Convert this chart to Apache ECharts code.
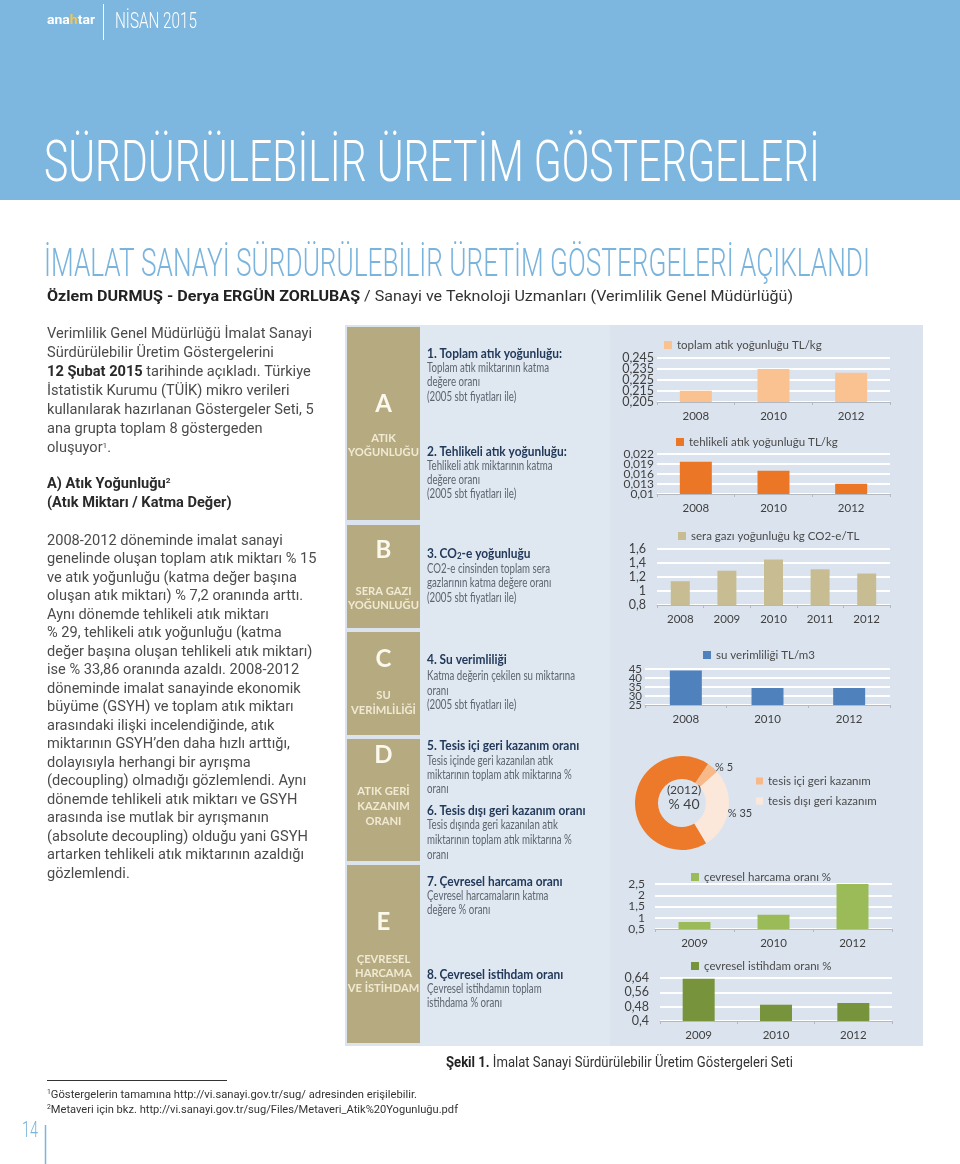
<!DOCTYPE html>
<html><head><meta charset="utf-8">
<script src="https://cdn.jsdelivr.net/npm/echarts@6/dist/echarts.min.js"></script>
<style>html,body{margin:0;padding:0;background:#fff}#c{width:960px;height:1164px}</style>
</head><body><div id="c"></div>
<script>
// ---------------- DATA ----------------
const wasteYears = ['2008', '2010', '2012'];
const totalWasteName = 'toplam atık yoğunluğu TL/kg';
const totalWaste = [0.2153, 0.2350, 0.2316];
const totalWasteTicks = [0.205, 0.215, 0.225, 0.235, 0.245];

const hazWasteName = 'tehlikeli atık yoğunluğu TL/kg';
const hazWaste = [0.0197, 0.0170, 0.0131];
const hazWasteTicks = [0.01, 0.013, 0.016, 0.019, 0.022];

const ghgYears = ['2008', '2009', '2010', '2011', '2012'];
const ghgName = 'sera gazı yoğunluğu kg CO2-e/TL';
const ghg = [1.14, 1.29, 1.45, 1.31, 1.25];
const ghgTicks = [0.8, 1, 1.2, 1.4, 1.6];

const waterYears = ['2008', '2010', '2012'];
const waterName = 'su verimliliği TL/m3';
const water = [44.1, 34.4, 34.4];
const waterTicks = [25, 30, 35, 40, 45];

const recoveryNames = ['geri kazanım (2012)', 'tesis içi geri kazanım', 'tesis dışı geri kazanım'];
const recoveryLabels = ['% 40', '% 5', '% 35'];
const recoveryArcShares = [68, 4, 28]; // share of the ring as drawn

const envYears = ['2009', '2010', '2012'];
const envSpendName = 'çevresel harcama oranı %';
const envSpend = [0.81, 1.13, 2.58];
const envSpendTicks = [0.5, 1, 1.5, 2, 2.5];

const envEmpName = 'çevresel istihdam oranı %';
const envEmp = [0.636, 0.491, 0.500];
const envEmpTicks = [0.4, 0.48, 0.56, 0.64];

// ---------------- HELPERS ----------------
const ctx = document.createElement('canvas').getContext('2d');
function measure(segs) { let w = 0; segs.forEach(s => { ctx.font = s[1]; w += ctx.measureText(s[0]).width; }); return w; }
const G = [];
function addText(x, y, segs, opt) {
  opt = opt || {};
  const rich = {}; let str = '';
  segs.forEach((s, i) => {
    rich['s' + i] = { font: s[1], fill: s[2], verticalAlign: s[3] || 'middle' };
    str += '{s' + i + '|' + s[0] + '}';
  });
  let sx = opt.scale || 1;
  if (opt.fit) sx = opt.fit / measure(segs);
  G.push({ type: 'text', x: x, y: y, scaleX: sx, z: 50, silent: true,
    style: { text: str, rich: rich, font: segs[0][1], fill: segs[0][2],
      align: opt.align || 'left', verticalAlign: 'middle',
      textAlign: opt.align || 'left', textVerticalAlign: 'middle' } });
  return sx;
}
function rect(x, y, w, h, fill, z) { G.push({ type: 'rect', z: z == null ? -5 : z, silent: true, shape: { x, y, width: w, height: h }, style: { fill } }); }
function line(x1, y1, x2, y2, stroke, w) { G.push({ type: 'line', z: 40, silent: true, shape: { x1, y1, x2, y2 }, style: { stroke, lineWidth: w || 1 } }); }

// ---------------- PAGE DECOR ----------------
rect(0, 0, 960, 200, '#7db6de', -10);
addText(47, 21, [['ana', 'bold 12px Roboto', '#ffffff'], ['h', 'bold 12px Roboto', '#f4c64f'], ['tar', 'bold 12px Roboto', '#ffffff']], { fit: 48 });
line(103.5, 4, 103.5, 40, '#ffffff', 1);
addText(115, 22, [['NİSAN 2015', '300 22px Roboto', '#ffffff']], { fit: 82 });
addText(44, 166, [['SÜRDÜRÜLEBİLİR ÜRETİM GÖSTERGELERİ', '300 58px Roboto', '#ffffff']], { fit: 776 });
addText(44, 266, [['İMALAT SANAYİ SÜRDÜRÜLEBİLİR ÜRETİM GÖSTERGELERİ AÇIKLANDI', '300 39px Roboto', '#7ab4dd']], { fit: 826 });
addText(47, 297, [['Özlem DURMUŞ - Derya ERGÜN ZORLUBAŞ', 'bold 15.5px Roboto', '#222222'], [' / Sanayi ve Teknoloji Uzmanları (Verimlilik Genel Müdürlüğü)', '15.5px Roboto', '#333333']], { fit: 746 });

// left column text
const BF = '14px Roboto', BB = 'bold 14px Roboto', BC = '#4b4b4b', BD = '#2a2a2a';
const bodyScale = 265 / measure([['Verimlilik Genel Müdürlüğü İmalat Sanayi', BF]]);
const intro = [
  [['Verimlilik Genel Müdürlüğü İmalat Sanayi', BF, BC]],
  [['Sürdürülebilir Üretim Göstergelerini', BF, BC]],
  [['12 Şubat 2015', BB, BD], [' tarihinde açıkladı. Türkiye', BF, BC]],
  [['İstatistik Kurumu (TÜİK) mikro verileri', BF, BC]],
  [['kullanılarak hazırlanan Göstergeler Seti, 5', BF, BC]],
  [['ana grupta toplam 8 göstergeden', BF, BC]],
  [['oluşuyor', BF, BC], ['1', '8px Roboto', BC, 'top'], ['.', BF, BC]]
];
intro.forEach((l, i) => addText(47, 334 + i * 19.1, l, { scale: bodyScale }));
addText(47, 484, [['A) Atık Yoğunluğu', BB, BD], ['2', 'bold 8px Roboto', BD, 'top']], { scale: bodyScale });
addText(47, 503, [['(Atık Miktarı / Katma Değer)', BB, BD]], { scale: bodyScale });
const para = [
  '2008-2012 döneminde imalat sanayi',
  'genelinde oluşan toplam atık miktarı % 15',
  've atık yoğunluğu (katma değer başına',
  'oluşan atık miktarı) % 7,2 oranında arttı.',
  'Aynı dönemde tehlikeli atık miktarı',
  '% 29, tehlikeli atık yoğunluğu (katma',
  'değer başına oluşan tehlikeli atık miktarı)',
  'ise % 33,86 oranında azaldı. 2008-2012',
  'döneminde imalat sanayinde ekonomik',
  'büyüme (GSYH) ve toplam atık miktarı',
  'arasındaki ilişki incelendiğinde, atık',
  'miktarının GSYH’den daha hızlı arttığı,',
  'dolayısıyla herhangi bir ayrışma',
  '(decoupling) olmadığı gözlemlendi. Aynı',
  'dönemde tehlikeli atık miktarı ve GSYH',
  'arasında ise mutlak bir ayrışmanın',
  '(absolute decoupling) olduğu yani GSYH',
  'artarken tehlikeli atık miktarının azaldığı',
  'gözlemlendi.'
];
para.forEach((t, i) => addText(47, 541 + i * 18.5, [[t, BF, BC]], { scale: bodyScale }));

// infographic panel
rect(345, 325, 578, 721, '#dbe4ee', -9);
rect(420, 325, 190, 721, '#dfe7f0', -8);
const TAN = '#b6aa80';
[[327, 520], [525, 628], [632, 735], [739, 861], [865, 1043]].forEach(b => rect(347, b[0], 73, b[1] - b[0], TAN, -7));
const LF = 'bold 24px Lato', SF = 'bold 11px Lato', LC = '#fbf8ee', SC = '#f1ead3';
const boxScale = 71 / measure([['YOĞUNLUĞU', SF]]);
const boxTexts = [
  ['A', 404, [['ATIK', 438], ['YOĞUNLUĞU', 452]]],
  ['B', 550, [['SERA GAZI', 591], ['YOĞUNLUĞU', 605]]],
  ['C', 659, [['SU', 695], ['VERİMLİLİĞİ', 710]]],
  ['D', 755, [['ATIK GERİ', 791], ['KAZANIM', 806], ['ORANI', 821]]],
  ['E', 922, [['ÇEVRESEL', 959], ['HARCAMA', 973], ['VE İSTİHDAM', 988]]]
];
boxTexts.forEach(b => {
  addText(383.5, b[1], [[b[0], LF, LC]], { align: 'center' });
  b[2].forEach(s => addText(383.5, s[1], [[s[0], SF, SC]], { align: 'center', scale: boxScale }));
});

const HF = 'bold 13.5px Lato', TF = '13.5px Lato', HC = '#22395a', TC = '#5c6570';
const hScale = 135 / measure([['1. Toplam atık yoğunluğu:', HF]]);
const tScale = 122 / measure([['Toplam atık miktarının katma', TF]]);
const desc = [
  ['h', '1. Toplam atık yoğunluğu:', 354], ['t', 'Toplam atık miktarının katma', 368], ['t', 'değere oranı', 382], ['t', '(2005 sbt fiyatları ile)', 397],
  ['h', '2. Tehlikeli atık yoğunluğu:', 452], ['t', 'Tehlikeli atık miktarının katma', 466], ['t', 'değere oranı', 480], ['t', '(2005 sbt fiyatları ile)', 494],
  ['t', 'CO2-e cinsinden toplam sera', 569], ['t', 'gazlarının katma değere oranı', 583], ['t', '(2005 sbt fiyatları ile)', 598],
  ['h', '4. Su verimliliği', 660], ['t', 'Katma değerin çekilen su miktarına', 676], ['t', 'oranı', 691], ['t', '(2005 sbt fiyatları ile)', 705],
  ['h', '5. Tesis içi geri kazanım oranı', 746], ['t', 'Tesis içinde geri kazanılan atık', 761], ['t', 'miktarının toplam atık miktarına %', 775], ['t', 'oranı', 789],
  ['h', '6. Tesis dışı geri kazanım oranı', 811], ['t', 'Tesis dışında geri kazanılan atık', 825], ['t', 'miktarının toplam atık miktarına %', 840], ['t', 'oranı', 855],
  ['h', '7. Çevresel harcama oranı', 882], ['t', 'Çevresel harcamaların katma', 896], ['t', 'değere % oranı', 910],
  ['h', '8. Çevresel istihdam oranı', 975], ['t', 'Çevresel istihdamın toplam', 989], ['t', 'istihdama % oranı', 1003]
];
desc.forEach(d => addText(427, d[2], [[d[1], d[0] === 'h' ? HF : TF, d[0] === 'h' ? HC : TC]], { scale: d[0] === 'h' ? hScale : tScale }));
addText(427, 554, [['3. CO', HF, HC], ['2', 'bold 9px Lato', HC, 'bottom'], ['-e yoğunluğu', HF, HC]], { scale: hScale });

// donut labels
addText(684, 790, [['(2012)', '12px Lato', '#404040']], { align: 'center' });
addText(684, 804, [['% 40', '14px Lato', '#404040']], { align: 'center' });
addText(724, 767, [['% 5', '11px Lato', '#404040']], { align: 'center' });
addText(740, 813, [['% 35', '11px Lato', '#404040']], { align: 'center' });

// caption & footnotes
addText(446, 1063, [['Şekil 1.', 'bold 14px Roboto', '#222222'], [' İmalat Sanayi Sürdürülebilir Üretim Göstergeleri Seti', '14px Roboto', '#333333']], { fit: 347 });
line(47, 1080.5, 227, 1080.5, '#333333', 1);
addText(47, 1095, [['1', '7px Roboto', '#333', 'top'], ['Göstergelerin tamamına http://vi.sanayi.gov.tr/sug/ adresinden erişilebilir.', '11.5px Roboto', '#333333']], { fit: 370 });
addText(47, 1110, [['2', '7px Roboto', '#333', 'top'], ['Metaveri için bkz. http://vi.sanayi.gov.tr/sug/Files/Metaveri_Atik%20Yogunluğu.pdf', '11.5px Roboto', '#333333']], { fit: 411 });
addText(22, 1131, [['14', '300 22px Roboto', '#7ab4dd']], { fit: 16 });
line(45.5, 1125, 45.5, 1164, '#7ab4dd', 1.5);

// ---------------- CHARTS ----------------
const grids = [], xAxes = [], yAxes = [], series = [], legends = [];
function fmt(v) { return String(Math.round(v * 10000) / 10000).replace('.', ','); }
function barChart(c) {
  const i = grids.length;
  grids.push({ left: c.left, top: c.top, width: c.width, height: c.height, containLabel: false });
  xAxes.push({ gridIndex: i, type: 'category', data: c.cats,
    axisLine: { lineStyle: { color: '#b4b9bf', width: 1 } },
    axisTick: { show: true, length: 3, lineStyle: { color: '#b4b9bf' } },
    axisLabel: { color: '#3f3f3f', fontSize: 11.5, fontFamily: 'Lato', margin: 8 } });
  const vIdx = yAxes.length;
  // value axis: scale for bars + white grid lines at the tick values
  yAxes.push({ gridIndex: i, type: 'value', min: c.ticks[0], max: c.ticks[c.ticks.length - 1],
    axisLine: { show: false },
    axisTick: { show: false, customValues: c.ticks },
    axisLabel: { show: false, customValues: c.ticks },
    splitLine: { show: true, lineStyle: { color: '#ffffff', width: 2 } } });
  // label axis: the printed tick labels, evenly spaced from min to max
  yAxes.push({ gridIndex: i, type: 'category', data: c.ticks.map(fmt), boundaryGap: false, position: 'left',
    axisLine: { show: false }, axisTick: { show: false }, splitLine: { show: false },
    axisLabel: { interval: 0, color: '#3f3f3f', fontSize: c.fs, fontFamily: 'Lato', margin: c.margin } });
  series.push({ type: 'bar', name: c.name, xAxisIndex: i, yAxisIndex: vIdx, data: c.data, barWidth: c.barWidth,
    itemStyle: { color: c.color }, emphasis: { disabled: true }, silent: true });
  legends.push({ data: [c.name], left: c.legLeft, top: c.legTop, padding: 0, icon: 'rect', itemWidth: 8, itemHeight: 8,
    selectedMode: false, textStyle: { color: '#4a4a4a', fontSize: 11.5, fontFamily: 'Lato' } });
}
barChart({ left: 657, top: 358, width: 233, height: 44, cats: wasteYears, data: totalWaste, ticks: totalWasteTicks, name: totalWasteName, color: '#fac191', barWidth: 32, margin: 3, fs: 12.5, legLeft: 664, legTop: 339 });
barChart({ left: 657, top: 454, width: 233, height: 40, cats: wasteYears, data: hazWaste, ticks: hazWasteTicks, name: hazWasteName, color: '#eb7625', barWidth: 32, margin: 3, fs: 12, legLeft: 676, legTop: 436 });
barChart({ left: 657, top: 549, width: 233, height: 56, cats: ghgYears, data: ghg, ticks: ghgTicks, name: ghgName, color: '#c8bd92', barWidth: 19, margin: 11, fs: 12.5, legLeft: 678, legTop: 530 });
barChart({ left: 645, top: 669, width: 245, height: 36, cats: waterYears, data: water, ticks: waterTicks, name: waterName, color: '#4f81bd', barWidth: 32, margin: 3, fs: 11.5, legLeft: 703, legTop: 649 });
barChart({ left: 655, top: 884, width: 237, height: 45, cats: envYears, data: envSpend, ticks: envSpendTicks, name: envSpendName, color: '#9bbb59', barWidth: 32, margin: 10, fs: 12, legLeft: 691, legTop: 871 });
barChart({ left: 660, top: 978, width: 232, height: 43, cats: envYears, data: envEmp, ticks: envEmpTicks, name: envEmpName, color: '#77933c', barWidth: 32, margin: 11, fs: 12.5, legLeft: 691, legTop: 960 });

const pieColors = ['#ec7a2a', '#f8b888', '#fce8da'];
series.push({ type: 'pie', name: 'geri kazanım', center: [682, 803], radius: [24, 47], startAngle: -59, clockwise: true,
  label: { show: false }, labelLine: { show: false }, silent: true, emphasis: { disabled: true },
  data: recoveryNames.map((n, i) => ({ name: n, value: recoveryArcShares[i], itemStyle: { color: pieColors[i] } })) });
legends.push({ data: recoveryNames.slice(1), orient: 'vertical', left: 756, top: 775, itemGap: 8, padding: 0, icon: 'rect', itemWidth: 7, itemHeight: 7,
  selectedMode: false, textStyle: { color: '#4a4a4a', fontSize: 11.5, fontFamily: 'Lato' } });

const chart = echarts.init(document.getElementById('c'), null, { renderer: 'canvas', width: 960, height: 1164 });
chart.setOption({
  animation: false,
  backgroundColor: '#ffffff',
  grid: grids, xAxis: xAxes, yAxis: yAxes, series: series, legend: legends,
  graphic: { elements: G }
});
</script></body></html>
